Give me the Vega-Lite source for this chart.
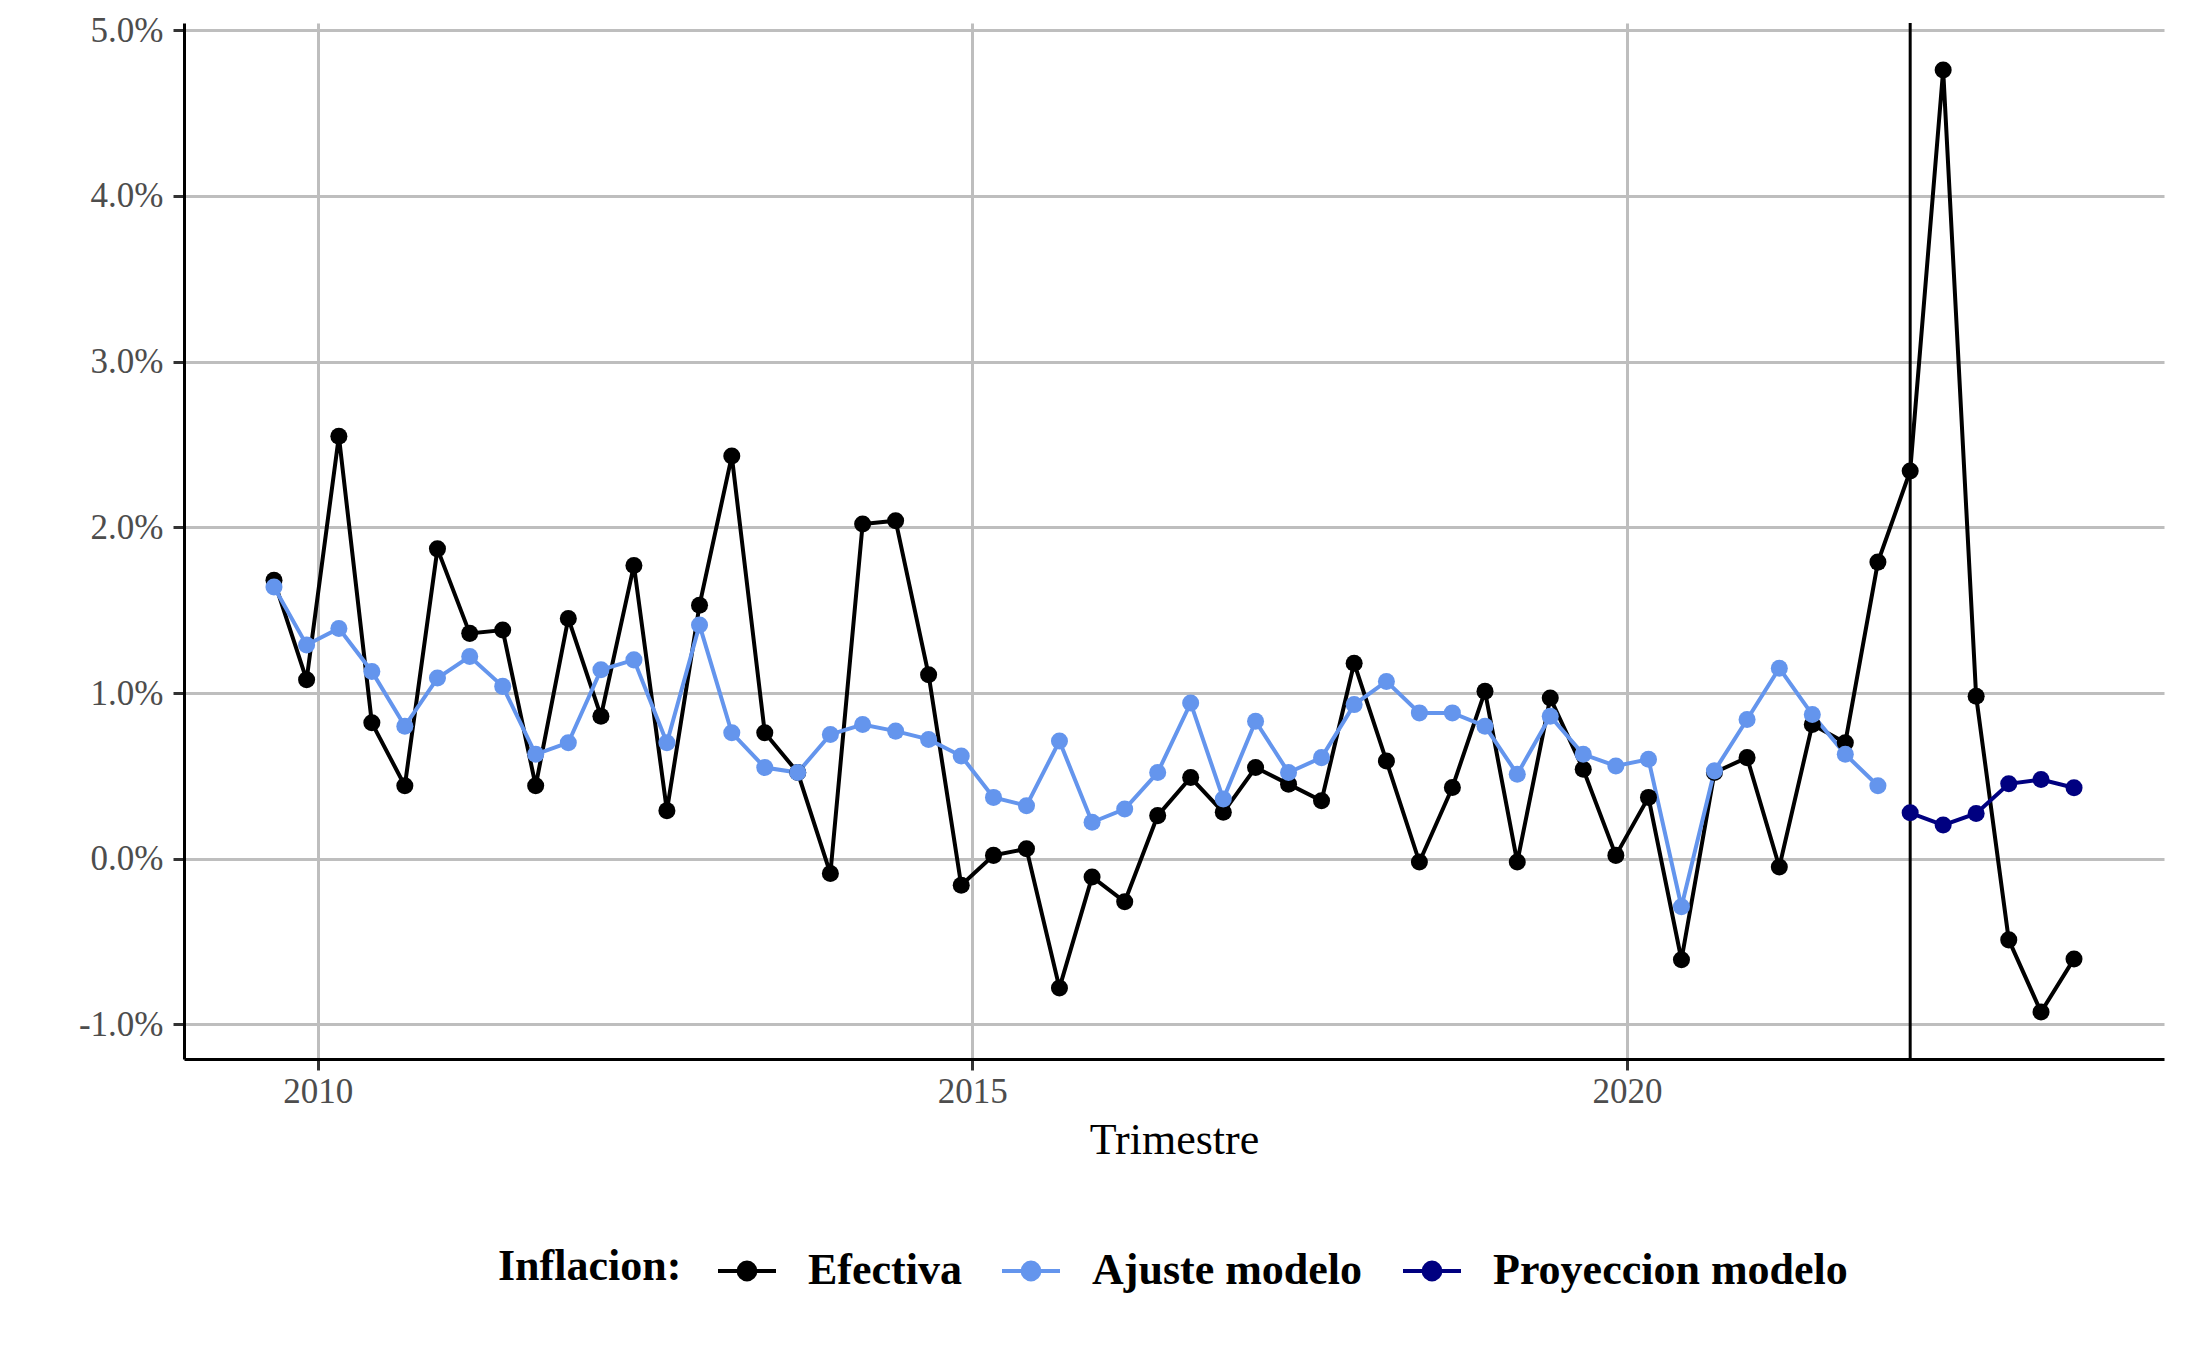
{
  "$schema": "https://vega.github.io/schema/vega-lite/v6.json",
  "autosize": "none",
  "width": 1980,
  "height": 1036,
  "padding": {"left": 184, "top": 23, "right": 23, "bottom": 292},
  "background": "white",
  "config": {
    "view": {"stroke": null},
    "font": "Liberation Serif",
    "axis": {
      "labelFont": "Liberation Serif",
      "titleFont": "Liberation Serif",
      "labelFontSize": 35,
      "labelColor": "#4d4d4d",
      "titleFontSize": 44,
      "titleFontWeight": "normal",
      "titleColor": "black",
      "domainColor": "black",
      "domainWidth": 3,
      "tickColor": "#333333",
      "tickWidth": 3,
      "tickSize": 11,
      "gridColor": "#bebebe",
      "gridWidth": 3
    },
    "legend": {
      "labelFont": "Liberation Serif",
      "titleFont": "Liberation Serif"
    }
  },
  "datasets": {
    "series": [
      {"t": "2009-09-01", "serie": "Efectiva", "v": 1.68},
      {"t": "2009-12-01", "serie": "Efectiva", "v": 1.08},
      {"t": "2010-03-01", "serie": "Efectiva", "v": 2.55},
      {"t": "2010-06-01", "serie": "Efectiva", "v": 0.82},
      {"t": "2010-09-01", "serie": "Efectiva", "v": 0.44},
      {"t": "2010-12-01", "serie": "Efectiva", "v": 1.87},
      {"t": "2011-03-01", "serie": "Efectiva", "v": 1.36},
      {"t": "2011-06-01", "serie": "Efectiva", "v": 1.38},
      {"t": "2011-09-01", "serie": "Efectiva", "v": 0.44},
      {"t": "2011-12-01", "serie": "Efectiva", "v": 1.45},
      {"t": "2012-03-01", "serie": "Efectiva", "v": 0.86},
      {"t": "2012-06-01", "serie": "Efectiva", "v": 1.77},
      {"t": "2012-09-01", "serie": "Efectiva", "v": 0.29},
      {"t": "2012-12-01", "serie": "Efectiva", "v": 1.53},
      {"t": "2013-03-01", "serie": "Efectiva", "v": 2.43},
      {"t": "2013-06-01", "serie": "Efectiva", "v": 0.76},
      {"t": "2013-09-01", "serie": "Efectiva", "v": 0.52},
      {"t": "2013-12-01", "serie": "Efectiva", "v": -0.09},
      {"t": "2014-03-01", "serie": "Efectiva", "v": 2.02},
      {"t": "2014-06-01", "serie": "Efectiva", "v": 2.04},
      {"t": "2014-09-01", "serie": "Efectiva", "v": 1.11},
      {"t": "2014-12-01", "serie": "Efectiva", "v": -0.16},
      {"t": "2015-03-01", "serie": "Efectiva", "v": 0.02},
      {"t": "2015-06-01", "serie": "Efectiva", "v": 0.06},
      {"t": "2015-09-01", "serie": "Efectiva", "v": -0.78},
      {"t": "2015-12-01", "serie": "Efectiva", "v": -0.11},
      {"t": "2016-03-01", "serie": "Efectiva", "v": -0.26},
      {"t": "2016-06-01", "serie": "Efectiva", "v": 0.26},
      {"t": "2016-09-01", "serie": "Efectiva", "v": 0.49},
      {"t": "2016-12-01", "serie": "Efectiva", "v": 0.28},
      {"t": "2017-03-01", "serie": "Efectiva", "v": 0.55},
      {"t": "2017-06-01", "serie": "Efectiva", "v": 0.45},
      {"t": "2017-09-01", "serie": "Efectiva", "v": 0.35},
      {"t": "2017-12-01", "serie": "Efectiva", "v": 1.18},
      {"t": "2018-03-01", "serie": "Efectiva", "v": 0.59},
      {"t": "2018-06-01", "serie": "Efectiva", "v": -0.02},
      {"t": "2018-09-01", "serie": "Efectiva", "v": 0.43},
      {"t": "2018-12-01", "serie": "Efectiva", "v": 1.01},
      {"t": "2019-03-01", "serie": "Efectiva", "v": -0.02},
      {"t": "2019-06-01", "serie": "Efectiva", "v": 0.97},
      {"t": "2019-09-01", "serie": "Efectiva", "v": 0.54},
      {"t": "2019-12-01", "serie": "Efectiva", "v": 0.02},
      {"t": "2020-03-01", "serie": "Efectiva", "v": 0.37},
      {"t": "2020-06-01", "serie": "Efectiva", "v": -0.61},
      {"t": "2020-09-01", "serie": "Efectiva", "v": 0.52},
      {"t": "2020-12-01", "serie": "Efectiva", "v": 0.61},
      {"t": "2021-03-01", "serie": "Efectiva", "v": -0.05},
      {"t": "2021-06-01", "serie": "Efectiva", "v": 0.81},
      {"t": "2021-09-01", "serie": "Efectiva", "v": 0.70},
      {"t": "2021-12-01", "serie": "Efectiva", "v": 1.79},
      {"t": "2022-03-01", "serie": "Efectiva", "v": 2.34},
      {"t": "2022-06-01", "serie": "Efectiva", "v": 4.76},
      {"t": "2022-09-01", "serie": "Efectiva", "v": 0.98},
      {"t": "2022-12-01", "serie": "Efectiva", "v": -0.49},
      {"t": "2023-03-01", "serie": "Efectiva", "v": -0.925},
      {"t": "2023-06-01", "serie": "Efectiva", "v": -0.605},
      {"t": "2009-09-01", "serie": "Ajuste modelo", "v": 1.64},
      {"t": "2009-12-01", "serie": "Ajuste modelo", "v": 1.29},
      {"t": "2010-03-01", "serie": "Ajuste modelo", "v": 1.39},
      {"t": "2010-06-01", "serie": "Ajuste modelo", "v": 1.13},
      {"t": "2010-09-01", "serie": "Ajuste modelo", "v": 0.80},
      {"t": "2010-12-01", "serie": "Ajuste modelo", "v": 1.09},
      {"t": "2011-03-01", "serie": "Ajuste modelo", "v": 1.22},
      {"t": "2011-06-01", "serie": "Ajuste modelo", "v": 1.04},
      {"t": "2011-09-01", "serie": "Ajuste modelo", "v": 0.63},
      {"t": "2011-12-01", "serie": "Ajuste modelo", "v": 0.70},
      {"t": "2012-03-01", "serie": "Ajuste modelo", "v": 1.14},
      {"t": "2012-06-01", "serie": "Ajuste modelo", "v": 1.20},
      {"t": "2012-09-01", "serie": "Ajuste modelo", "v": 0.70},
      {"t": "2012-12-01", "serie": "Ajuste modelo", "v": 1.41},
      {"t": "2013-03-01", "serie": "Ajuste modelo", "v": 0.76},
      {"t": "2013-06-01", "serie": "Ajuste modelo", "v": 0.55},
      {"t": "2013-09-01", "serie": "Ajuste modelo", "v": 0.52},
      {"t": "2013-12-01", "serie": "Ajuste modelo", "v": 0.75},
      {"t": "2014-03-01", "serie": "Ajuste modelo", "v": 0.81},
      {"t": "2014-06-01", "serie": "Ajuste modelo", "v": 0.77},
      {"t": "2014-09-01", "serie": "Ajuste modelo", "v": 0.72},
      {"t": "2014-12-01", "serie": "Ajuste modelo", "v": 0.62},
      {"t": "2015-03-01", "serie": "Ajuste modelo", "v": 0.37},
      {"t": "2015-06-01", "serie": "Ajuste modelo", "v": 0.32},
      {"t": "2015-09-01", "serie": "Ajuste modelo", "v": 0.71},
      {"t": "2015-12-01", "serie": "Ajuste modelo", "v": 0.22},
      {"t": "2016-03-01", "serie": "Ajuste modelo", "v": 0.30},
      {"t": "2016-06-01", "serie": "Ajuste modelo", "v": 0.52},
      {"t": "2016-09-01", "serie": "Ajuste modelo", "v": 0.94},
      {"t": "2016-12-01", "serie": "Ajuste modelo", "v": 0.36},
      {"t": "2017-03-01", "serie": "Ajuste modelo", "v": 0.83},
      {"t": "2017-06-01", "serie": "Ajuste modelo", "v": 0.52},
      {"t": "2017-09-01", "serie": "Ajuste modelo", "v": 0.61},
      {"t": "2017-12-01", "serie": "Ajuste modelo", "v": 0.93},
      {"t": "2018-03-01", "serie": "Ajuste modelo", "v": 1.07},
      {"t": "2018-06-01", "serie": "Ajuste modelo", "v": 0.88},
      {"t": "2018-09-01", "serie": "Ajuste modelo", "v": 0.88},
      {"t": "2018-12-01", "serie": "Ajuste modelo", "v": 0.80},
      {"t": "2019-03-01", "serie": "Ajuste modelo", "v": 0.51},
      {"t": "2019-06-01", "serie": "Ajuste modelo", "v": 0.86},
      {"t": "2019-09-01", "serie": "Ajuste modelo", "v": 0.63},
      {"t": "2019-12-01", "serie": "Ajuste modelo", "v": 0.56},
      {"t": "2020-03-01", "serie": "Ajuste modelo", "v": 0.60},
      {"t": "2020-06-01", "serie": "Ajuste modelo", "v": -0.29},
      {"t": "2020-09-01", "serie": "Ajuste modelo", "v": 0.53},
      {"t": "2020-12-01", "serie": "Ajuste modelo", "v": 0.84},
      {"t": "2021-03-01", "serie": "Ajuste modelo", "v": 1.15},
      {"t": "2021-06-01", "serie": "Ajuste modelo", "v": 0.87},
      {"t": "2021-09-01", "serie": "Ajuste modelo", "v": 0.63},
      {"t": "2021-12-01", "serie": "Ajuste modelo", "v": 0.44},
      {"t": "2022-03-01", "serie": "Proyeccion modelo", "v": 0.277},
      {"t": "2022-06-01", "serie": "Proyeccion modelo", "v": 0.203},
      {"t": "2022-09-01", "serie": "Proyeccion modelo", "v": 0.273},
      {"t": "2022-12-01", "serie": "Proyeccion modelo", "v": 0.452},
      {"t": "2023-03-01", "serie": "Proyeccion modelo", "v": 0.478},
      {"t": "2023-06-01", "serie": "Proyeccion modelo", "v": 0.428}
    ],
    "corte": [{"t": "2022-03-01"}]
  },
  "layer": [
    {
      "data": {"name": "corte"},
      "mark": {"type": "rule", "color": "black", "strokeWidth": 3},
      "encoding": {
        "x": {"field": "t", "type": "temporal"}
      }
    },
    {
      "data": {"name": "series"},
      "mark": {"type": "line", "strokeWidth": 4},
      "encoding": {
        "x": {"field": "t", "type": "temporal"},
        "y": {"field": "v", "type": "quantitative"},
        "color": {"field": "serie", "type": "nominal"},
        "order": {"field": "t", "type": "temporal"}
      }
    },
    {
      "data": {"name": "series"},
      "mark": {"type": "point", "filled": true, "opacity": 1, "size": 290},
      "encoding": {
        "x": {
          "field": "t",
          "type": "temporal",
          "scale": {"type": "utc", "domain": ["2008-12-24", "2024-02-07"], "nice": false},
          "axis": {
            "title": "Trimestre",
            "values": [{"year": 2010, "utc": true}, {"year": 2015, "utc": true}, {"year": 2020, "utc": true}],
            "format": "%Y",
            "formatType": "utc",
            "labelPadding": 4,
            "titlePadding": 9,
            "grid": true
          }
        },
        "y": {
          "field": "v",
          "type": "quantitative",
          "scale": {"domain": [-1.209, 5.044], "nice": false, "zero": false},
          "axis": {
            "title": null,
            "values": [-1, 0, 1, 2, 3, 4, 5],
            "labelExpr": "(datum.value < 0 ? '-' : '') + format(abs(datum.value), '.1f') + '%'",
            "labelPadding": 10,
            "grid": true
          }
        },
        "color": {
          "field": "serie",
          "type": "nominal",
          "scale": {
            "domain": ["Efectiva", "Ajuste modelo", "Proyeccion modelo"],
            "range": ["#000000", "#6495ED", "#000080"]
          },
          "legend": {
            "title": "Inflacion:",
            "orient": "none",
            "legendX": 314,
            "legendY": 1217,
            "direction": "horizontal",
            "titleOrient": "left",
            "titleFontSize": 44,
            "titleFontWeight": "bold",
            "titleColor": "black",
            "titleAnchor": "middle",
            "titleBaseline": "middle",
            "titlePadding": 34,
            "titleLimit": 0,
            "labelLimit": 0,
            "labelFontSize": 44,
            "labelFontWeight": "bold",
            "labelColor": "black",
            "labelOffset": 30,
            "columnPadding": 32,
            "symbolType": "M-1,0H1M-0.29,0A0.29,0.29,0,1,1,0.29,0A0.29,0.29,0,1,1,-0.29,0Z",
            "symbolSize": 3364,
            "symbolStrokeWidth": 4,
            "symbolOpacity": 1
          }
        }
      }
    }
  ]
}
